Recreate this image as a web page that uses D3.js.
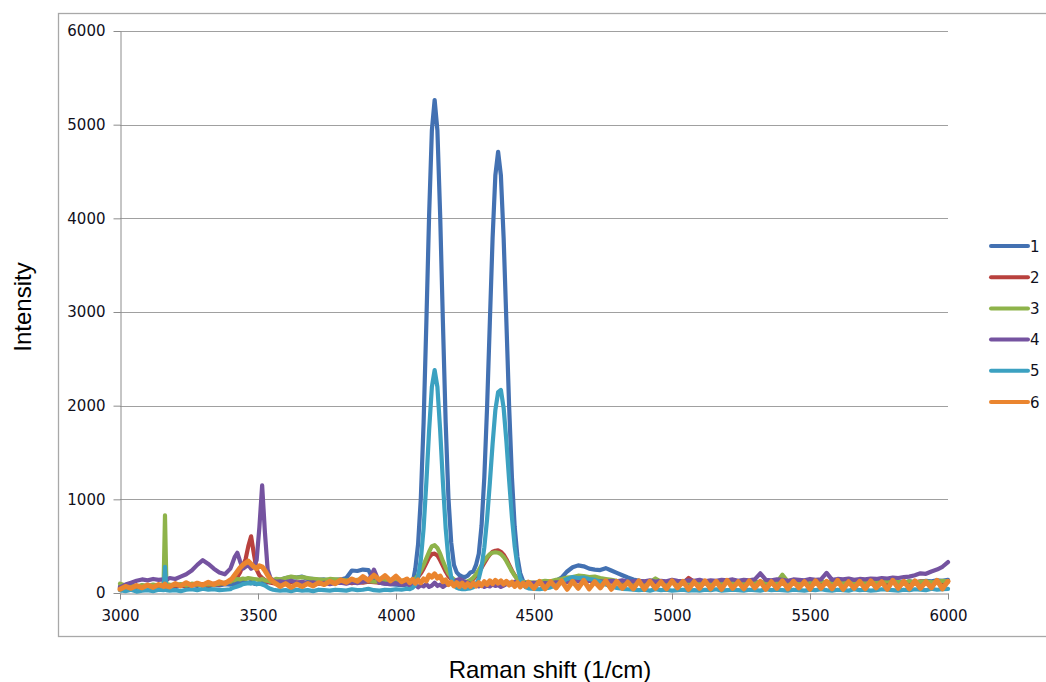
<!DOCTYPE html>
<html>
<head>
<meta charset="utf-8">
<script src="https://cdn.jsdelivr.net/npm/d3@7"></script>
<style>
  body { margin: 0; background: #fff; }
  svg { display: block; }
</style>
</head>
<body>
<div id="chart"></div>
<script>
// Raman shift positions (1/cm) shared by all six spectra
const shift = [
  3000,3020,3040,3060,3080,3100,3120,3140,
  3158,3163,3168,
  3180,3200,3220,3240,3260,3280,3300,3320,3340,3360,3380,3400,
  3405,3415,3425,3435,3445,3455,3465,3475,3485,3495,3505,3515,3525,3535,3545,3555,3565,
  3580,3600,3620,3640,3660,3680,3700,3720,3740,3760,
  3780,3800,3820,3840,3860,3880,3900,3920,3940,3960,
  3980,4000,4020,4040,
  4050,4060,4070,4080,4090,4100,4110,4120,4130,4140,
  4150,4160,4170,4180,4190,4200,4210,4220,4230,4240,
  4250,4260,4270,4280,4290,4300,4310,4320,4330,4340,
  4350,4360,4370,4380,4390,4400,4410,4420,4430,4440,
  4450,4460,4470,
  4480,4500,4520,4540,4560,4580,4600,4620,4640,4660,
  4680,4700,4720,4740,4760,4780,4800,4820,4840,4860,
  4880,4900,4920,4940,4960,4980,5000,5020,5040,5060,
  5080,5100,5120,5140,5160,5180,5200,5220,5240,5260,
  5280,5300,5320,5340,5360,5380,5400,5420,5440,5460,
  5480,5500,5520,5540,5560,5580,5600,5620,5640,5660,
  5680,5700,5720,5740,5760,5780,5800,5820,5840,5860,
  5880,5900,5920,5940,5960,5980,6000
];

// intensities, one list per sample
const s1 = [
  70,60,75,55,80,70,65,75,
  70,80,70,
  75,60,80,70,85,75,90,70,85,80,95,90,
  100,90,110,105,120,115,110,120,100,95,105,110,100,115,120,125,130,
  140,160,170,165,175,150,150,140,145,130,
  140,145,160,240,235,250,245,130,110,100,
  95,90,85,90,
  90,100,260,520,1016,1817,2886,4035,4940,5263,
  4940,4035,2886,1817,1016,540,300,220,190,175,
  170,185,220,230,300,420,720,1234,1983,2890,
  3790,4460,4710,4460,3790,2890,1983,1234,707,384,
  212,131,105,
  100,95,110,105,120,130,165,230,275,295,
  285,260,250,245,265,240,215,190,165,145,
  130,120,115,110,120,105,110,115,100,110,
  105,115,100,110,105,100,110,105,115,100,
  110,105,115,100,110,105,115,110,100,110,
  115,105,110,100,115,110,105,115,100,110,
  120,105,115,110,120,105,115,120,110,125,
  115,120,130,125,135,130,140
];
const s2 = [
  60,70,55,75,65,80,70,75,
  70,75,70,
  80,75,85,70,90,85,95,80,100,90,110,120,
  130,140,170,220,290,360,500,605,420,250,190,160,140,120,110,105,100,
  100,110,120,115,110,105,115,100,110,105,
  115,110,120,105,115,110,120,115,110,120,
  115,110,120,125,
  120,125,140,170,210,260,320,380,415,420,
  400,350,290,230,180,150,130,120,115,110,
  115,120,130,150,180,220,270,320,370,410,
  440,450,455,440,410,360,300,240,190,150,
  125,115,110,
  110,105,115,120,110,125,130,140,150,145,
  140,135,130,140,125,120,115,110,120,105,
  115,110,120,105,115,110,120,115,105,160,
  120,110,115,105,120,110,115,105,120,110,
  115,120,105,110,115,120,110,105,115,120,
  110,115,105,120,110,115,105,120,110,115,
  120,110,115,105,120,110,125,115,110,120,
  115,125,120,110,125,115,120
];
const s3 = [
  100,80,90,70,85,75,90,80,
  95,830,95,
  90,85,95,80,100,90,85,95,90,100,110,120,
  130,140,150,145,155,150,160,155,150,145,140,150,135,130,120,140,150,
  145,160,175,165,170,160,150,145,140,150,
  145,140,135,130,140,125,130,120,125,130,
  120,125,130,140,
  130,135,150,190,240,300,370,440,500,510,
  480,420,340,270,210,170,145,130,120,115,
  120,125,140,165,200,245,295,345,385,415,
  430,435,430,415,385,340,285,230,185,150,
  130,120,115,
  115,110,120,130,125,140,150,165,170,185,
  180,170,175,160,150,140,130,125,120,115,
  130,120,115,155,120,110,115,120,110,115,
  120,110,115,105,120,110,115,120,110,115,
  105,115,120,110,125,115,195,120,110,115,
  120,110,115,125,110,120,115,110,120,115,
  125,110,120,115,110,125,115,120,110,125,
  115,120,125,115,120,130,125
];
const s4 = [
  60,90,110,130,145,135,150,140,
  145,150,140,
  160,150,175,200,240,300,350,310,260,220,200,260,
  300,380,430,340,260,280,300,260,280,350,700,1150,650,250,160,130,120,
  125,115,130,110,120,105,115,100,110,95,
  105,110,100,115,105,120,130,250,110,100,
  95,105,90,100,
  80,70,90,60,85,70,95,65,80,110,
  75,90,65,85,95,110,120,140,150,135,
  120,110,95,80,90,70,85,65,80,70,
  90,75,85,65,80,95,110,90,120,100,
  110,95,105,
  100,110,95,105,100,115,110,120,115,125,
  120,130,115,125,120,130,125,135,120,125,
  130,125,135,120,130,125,140,130,125,135,
  130,140,125,135,130,140,135,145,130,140,
  135,145,210,140,135,145,140,130,145,140,
  135,150,140,145,215,140,150,145,155,140,
  150,145,155,150,160,155,165,160,170,175,
  190,210,205,230,250,280,330
];
const s5 = [
  30,20,35,15,25,30,20,35,
  30,280,30,
  25,30,20,35,40,30,45,35,40,30,35,40,
  50,60,70,80,95,100,105,100,110,95,100,90,80,60,45,35,30,
  25,30,20,35,25,30,20,35,30,25,
  35,30,25,40,30,35,45,30,25,35,
  30,40,35,45,
  40,55,86,171,356,690,1180,1740,2200,2380,
  2200,1740,1180,690,356,171,86,55,45,40,
  40,45,50,60,90,155,278,486,790,1177,
  1593,1953,2145,2168,1975,1620,1200,810,500,285,
  160,92,60,
  50,45,40,50,60,80,120,150,170,160,
  165,150,140,120,90,70,55,45,40,35,
  30,35,25,40,30,35,25,30,35,25,
  30,25,35,30,40,25,30,35,30,25,
  35,30,25,40,30,35,30,25,35,30,
  25,35,30,40,30,25,35,30,25,40,
  30,35,25,30,40,35,30,25,35,30,
  40,35,30,45,35,40,45
];
const s6 = [
  40,70,50,80,55,85,60,90,
  70,95,75,
  65,100,75,110,80,105,85,115,90,120,100,140,
  150,190,230,270,300,320,340,310,280,260,290,280,240,190,150,120,100,
  70,100,60,95,70,100,75,110,90,125,
  100,140,115,150,125,175,135,190,140,185,
  130,180,120,150,
  110,145,105,140,110,150,130,190,170,205,
  160,180,120,140,90,115,75,110,70,105,
  65,100,70,105,75,110,80,120,90,130,
  100,135,105,130,95,125,85,115,70,110,
  65,105,70,
  115,50,125,45,120,55,130,40,125,50,
  135,45,120,55,130,40,125,50,115,45,
  130,40,125,50,120,45,130,55,125,40,
  120,50,130,45,125,40,135,50,120,45,
  130,55,125,40,120,50,130,45,125,55,
  120,40,130,50,125,45,135,40,120,50,
  125,45,130,55,120,40,135,50,125,45,
  130,50,120,55,135,45,125
];

const seriesNames = ["1", "2", "3", "4", "5", "6"];
const seriesValues = [s1, s2, s3, s4, s5, s6];
const seriesColors = ["#4371b2", "#b9413e", "#8eb34a", "#7553a0", "#3ca1c1", "#ea852f"];
const seriesWidths = [4.2, 4.2, 4.2, 4.2, 4.2, 5];
const yTicks = [0, 1000, 2000, 3000, 4000, 5000, 6000];
const xTicks = [3000, 3500, 4000, 4500, 5000, 5500, 6000];

const W = 1046, H = 682;
const tickFont = "'DejaVu Sans', sans-serif";
const titleFont = "'Liberation Sans', Arial, sans-serif";

const svg = d3.select("#chart")
  .append("svg")
  .attr("width", W)
  .attr("height", H);

svg.append("rect")
  .attr("width", W)
  .attr("height", H)
  .attr("fill", "#fff");

// chart border (runs off the right edge like the picture)
svg.append("rect")
  .attr("x", 58.5)
  .attr("y", 13.5)
  .attr("width", 1000)
  .attr("height", 623)
  .attr("fill", "none")
  .attr("stroke", "#a8a8a8")
  .attr("stroke-width", 1.3);

const x = d3.scaleLinear().domain([3000, 6000]).range([120, 948]);
const y = d3.scaleLinear().domain([0, 6000]).range([593, 31]);

// horizontal gridlines
svg.append("g")
  .selectAll("line")
  .data(yTicks.filter(d => d > 0))
  .enter()
  .append("line")
  .attr("x1", x(3000))
  .attr("x2", x(6000))
  .attr("y1", d => Math.round(y(d)) + 0.5)
  .attr("y2", d => Math.round(y(d)) + 0.5)
  .attr("stroke", "#a0a0a0")
  .attr("stroke-width", 1);

const yAxis = svg.append("g")
  .attr("transform", "translate(120.5,0)")
  .call(d3.axisLeft(y).tickValues(yTicks).tickFormat(d3.format("d"))
    .tickSize(7).tickSizeOuter(0).tickPadding(8));

const xAxis = svg.append("g")
  .attr("transform", "translate(0,593.5)")
  .call(d3.axisBottom(x).tickValues(xTicks).tickFormat(d3.format("d"))
    .tickSize(6).tickSizeOuter(0).tickPadding(11));

[yAxis, xAxis].forEach(g => {
  g.select(".domain").attr("stroke", "#8c8c8c");
  g.selectAll(".tick line").attr("stroke", "#8c8c8c");
  g.selectAll(".tick text")
    .attr("fill", "#10101c")
    .style("font-family", tickFont)
    .style("font-size", "15px");
});

// spectra, series 1 drawn first so 6 ends on top
const line = d3.line()
  .x((d, i) => x(shift[i]))
  .y(d => y(d));

seriesValues.forEach((vals, k) => {
  const n = Math.min(vals.length, shift.length);
  svg.append("path")
    .datum(vals.slice(0, n))
    .attr("d", line)
    .attr("fill", "none")
    .attr("stroke", seriesColors[k])
    .attr("stroke-width", seriesWidths[k])
    .attr("stroke-linejoin", "round")
    .attr("stroke-linecap", "round");
});

// legend
const legend = svg.append("g");
seriesNames.forEach((name, k) => {
  const ly = 246 + k * 31.2;
  legend.append("line")
    .attr("x1", 991).attr("x2", 1028)
    .attr("y1", ly).attr("y2", ly)
    .attr("stroke", seriesColors[k])
    .attr("stroke-width", 4)
    .attr("stroke-linecap", "round");
  legend.append("text")
    .attr("x", 1030)
    .attr("y", ly + 5.5)
    .attr("fill", "#10101c")
    .style("font-family", tickFont)
    .style("font-size", "15px")
    .text(name);
});

// axis titles
svg.append("text")
  .attr("transform", "translate(31,307) rotate(-90)")
  .attr("text-anchor", "middle")
  .style("font-family", titleFont)
  .style("font-size", "24px")
  .attr("fill", "#000")
  .text("Intensity");

svg.append("text")
  .attr("x", 550)
  .attr("y", 678)
  .attr("text-anchor", "middle")
  .style("font-family", titleFont)
  .style("font-size", "24px")
  .attr("fill", "#000")
  .text("Raman shift (1/cm)");
</script>
</body>
</html>
